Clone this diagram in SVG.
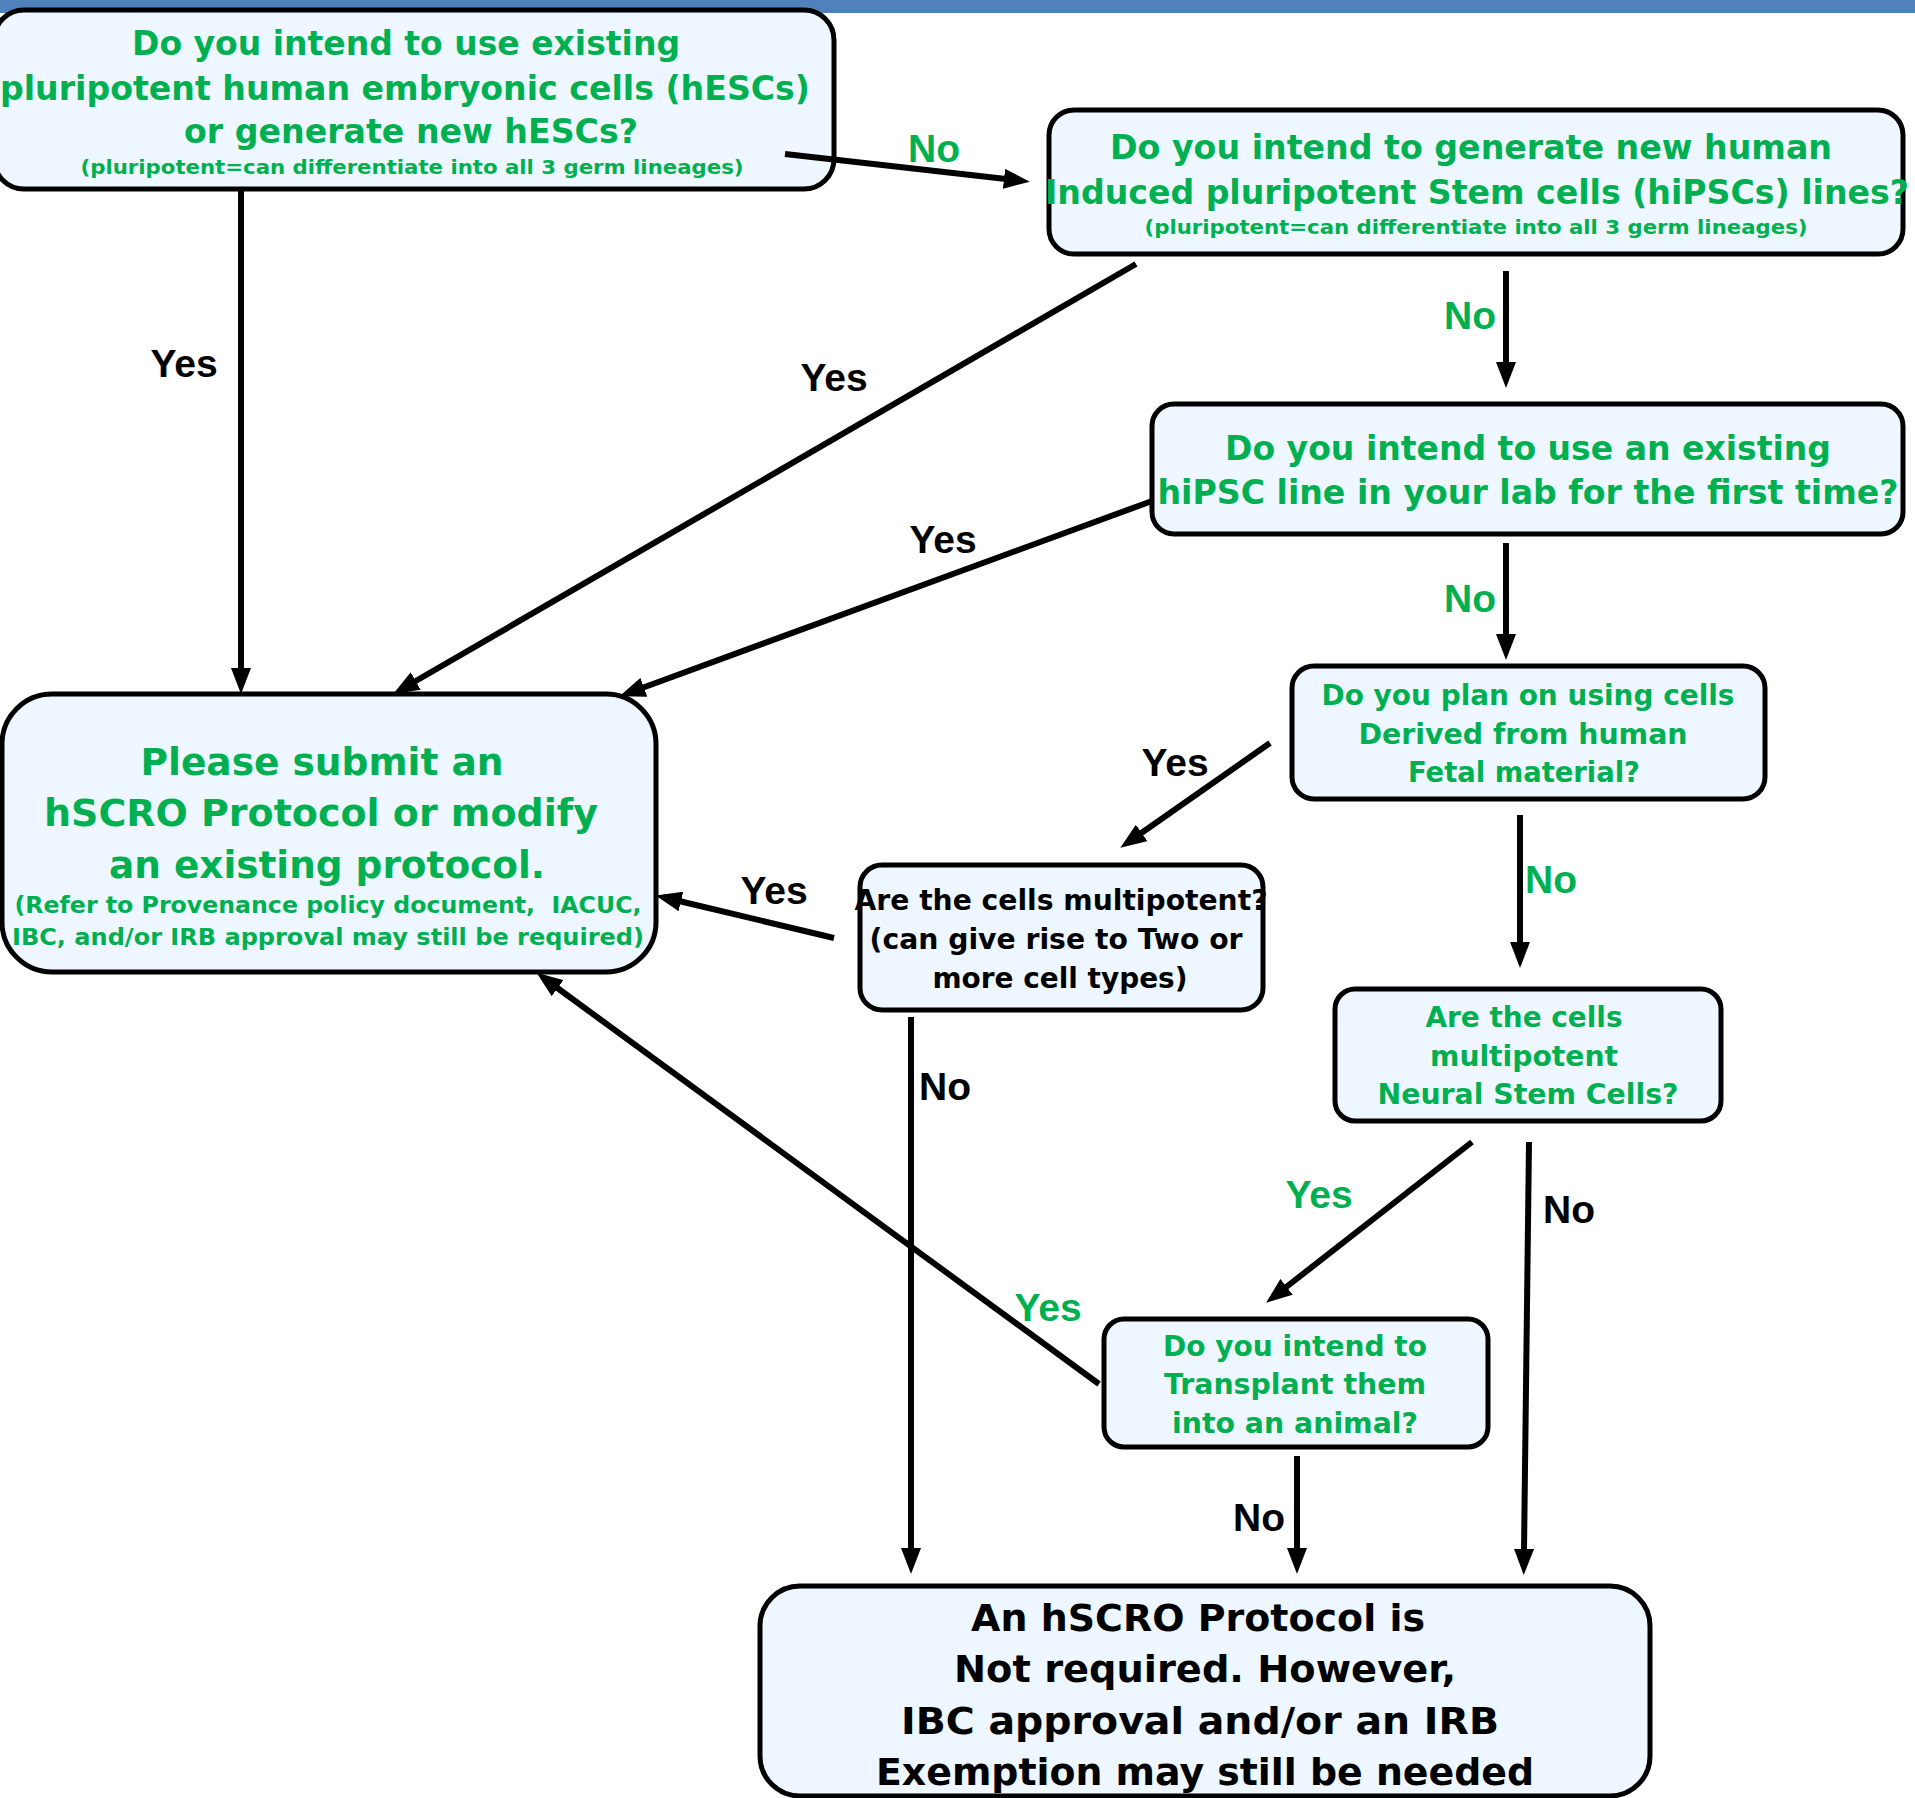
<svg xmlns="http://www.w3.org/2000/svg" width="1915" height="1798" viewBox="0 0 1915 1798">
<style>
.box{fill:#EEF6FF;stroke:#000;stroke-width:5}
.t{font-family:"DejaVu Sans","Verdana",sans-serif;font-weight:bold;text-anchor:middle}
.g{fill:#00B050}
.k{fill:#000}
.lbl{font-family:"Liberation Sans",Arial,sans-serif;font-weight:bold;font-size:39px;text-anchor:middle}
.c{stroke:#000;stroke-width:6;fill:none;marker-end:url(#ah)}
</style>
<defs>
<marker id="ah" viewBox="0 0 26 20" refX="2" refY="10" markerWidth="26" markerHeight="20" markerUnits="userSpaceOnUse" orient="auto">
<path d="M0,0 L26,10 L0,20 z" fill="#000"/>
</marker>
</defs>
<rect x="0" y="0" width="1915" height="13" fill="#4F81BD"/>

<g id="n1">
<rect class="box" x="-6" y="10" width="840" height="179" rx="30"/>
<text class="t g" font-size="33" x="406" y="55" textLength="548" lengthAdjust="spacingAndGlyphs">Do you intend to use existing</text>
<text class="t g" font-size="33" x="405" y="100" textLength="810" lengthAdjust="spacingAndGlyphs">pluripotent human embryonic cells (hESCs)</text>
<text class="t g" font-size="33" x="411" y="143" textLength="454" lengthAdjust="spacingAndGlyphs">or generate new hESCs?</text>
<text class="t g" font-size="19.5" x="412" y="174" textLength="663" lengthAdjust="spacingAndGlyphs">(pluripotent=can differentiate into all 3 germ lineages)</text>
</g>

<g id="n2">
<rect class="box" x="1049" y="110" width="854" height="144" rx="25"/>
<text class="t g" font-size="33" x="1471" y="159" textLength="722" lengthAdjust="spacingAndGlyphs">Do you intend to generate new human</text>
<text class="t g" font-size="33" x="1477" y="204" textLength="864" lengthAdjust="spacingAndGlyphs">Induced pluripotent Stem cells (hiPSCs) lines?</text>
<text class="t g" font-size="19.5" x="1476" y="234" textLength="663" lengthAdjust="spacingAndGlyphs">(pluripotent=can differentiate into all 3 germ lineages)</text>
</g>

<g id="n3">
<rect class="box" x="1152" y="404" width="751" height="130" rx="22"/>
<text class="t g" font-size="33" x="1528" y="460" textLength="606" lengthAdjust="spacingAndGlyphs">Do you intend to use an existing</text>
<text class="t g" font-size="33" x="1528" y="504" textLength="741" lengthAdjust="spacingAndGlyphs">hiPSC line in your lab for the first time?</text>
</g>

<g id="n4">
<rect class="box" x="1292" y="666" width="473" height="133" rx="22"/>
<text class="t g" font-size="28" x="1528" y="705" textLength="413" lengthAdjust="spacingAndGlyphs">Do you plan on using cells</text>
<text class="t g" font-size="28" x="1523" y="744" textLength="329" lengthAdjust="spacingAndGlyphs">Derived from human</text>
<text class="t g" font-size="28" x="1524" y="782" textLength="232" lengthAdjust="spacingAndGlyphs">Fetal material?</text>
</g>

<g id="n5">
<rect class="box" x="860" y="865" width="403" height="145" rx="22"/>
<text class="t k" font-size="28" x="1061" y="910" textLength="413" lengthAdjust="spacingAndGlyphs">Are the cells multipotent?</text>
<text class="t k" font-size="28" x="1056" y="949" textLength="373" lengthAdjust="spacingAndGlyphs">(can give rise to Two or</text>
<text class="t k" font-size="28" x="1060" y="988" textLength="255" lengthAdjust="spacingAndGlyphs">more cell types)</text>
</g>

<g id="n6">
<rect class="box" x="1335" y="989" width="386" height="132" rx="20"/>
<text class="t g" font-size="28" x="1524" y="1027" textLength="197" lengthAdjust="spacingAndGlyphs">Are the cells</text>
<text class="t g" font-size="28" x="1524" y="1066" textLength="188" lengthAdjust="spacingAndGlyphs">multipotent</text>
<text class="t g" font-size="28" x="1528" y="1104" textLength="301" lengthAdjust="spacingAndGlyphs">Neural Stem Cells?</text>
</g>

<g id="n7">
<rect class="box" x="1104" y="1319" width="384" height="128" rx="20"/>
<text class="t g" font-size="28" x="1295" y="1356" textLength="264" lengthAdjust="spacingAndGlyphs">Do you intend to</text>
<text class="t g" font-size="28" x="1295" y="1394" textLength="262" lengthAdjust="spacingAndGlyphs">Transplant them</text>
<text class="t g" font-size="28" x="1295" y="1433" textLength="246" lengthAdjust="spacingAndGlyphs">into an animal?</text>
</g>

<g id="n8">
<rect class="box" x="2" y="694" width="654" height="278" rx="50"/>
<text class="t g" font-size="37" x="322" y="775" textLength="363" lengthAdjust="spacingAndGlyphs">Please submit an</text>
<text class="t g" font-size="37" x="321" y="826" textLength="554" lengthAdjust="spacingAndGlyphs">hSCRO Protocol or modify</text>
<text class="t g" font-size="37" x="327" y="878" textLength="436" lengthAdjust="spacingAndGlyphs">an existing protocol.</text>
<text class="t g" font-size="23" x="328" y="913" textLength="627" lengthAdjust="spacingAndGlyphs" style="white-space:pre">(Refer to Provenance policy document,  IACUC,</text>
<text class="t g" font-size="23" x="328" y="945" textLength="632" lengthAdjust="spacingAndGlyphs">IBC, and/or IRB approval may still be required)</text>
</g>

<g id="n9">
<rect class="box" x="760" y="1586" width="890" height="210" rx="40"/>
<text class="t k" font-size="38" x="1198" y="1631" textLength="454" lengthAdjust="spacingAndGlyphs">An hSCRO Protocol is</text>
<text class="t k" font-size="38" x="1205" y="1682" textLength="502" lengthAdjust="spacingAndGlyphs">Not required. However,</text>
<text class="t k" font-size="38" x="1200" y="1734" textLength="598" lengthAdjust="spacingAndGlyphs">IBC approval and/or an IRB</text>
<text class="t k" font-size="38" x="1205" y="1785" textLength="658" lengthAdjust="spacingAndGlyphs">Exemption may still be needed</text>
</g>

<g id="connectors">
<line class="c" x1="785" y1="154" x2="1006" y2="179"/>
<line class="c" x1="241" y1="189" x2="241" y2="670"/>
<line class="c" x1="1136" y1="264" x2="414" y2="682"/>
<line class="c" x1="1506" y1="271" x2="1506" y2="364"/>
<line class="c" x1="1152" y1="501" x2="642" y2="688"/>
<line class="c" x1="1506" y1="543" x2="1506" y2="636"/>
<line class="c" x1="1270" y1="743" x2="1140" y2="834"/>
<line class="c" x1="1520" y1="815" x2="1520" y2="944"/>
<line class="c" x1="834" y1="938" x2="679" y2="901"/>
<line class="c" x1="911" y1="1017" x2="911" y2="1550"/>
<line class="c" x1="1472" y1="1142" x2="1285" y2="1288"/>
<line class="c" x1="1529" y1="1142" x2="1524" y2="1551"/>
<line class="c" x1="1099" y1="1384" x2="556" y2="987"/>
<line class="c" x1="1297" y1="1456" x2="1297" y2="1550"/>
<text class="lbl g" x="934" y="162">No</text>
<text class="lbl k" x="184" y="377">Yes</text>
<text class="lbl k" x="834" y="391">Yes</text>
<text class="lbl g" x="1470" y="329">No</text>
<text class="lbl k" x="943" y="553">Yes</text>
<text class="lbl g" x="1470" y="612">No</text>
<text class="lbl k" x="1175" y="776">Yes</text>
<text class="lbl g" x="1551" y="893">No</text>
<text class="lbl k" x="774" y="904">Yes</text>
<text class="lbl k" x="945" y="1100">No</text>
<text class="lbl g" x="1319" y="1208">Yes</text>
<text class="lbl k" x="1569" y="1223">No</text>
<text class="lbl g" x="1048" y="1321">Yes</text>
<text class="lbl k" x="1259" y="1531">No</text>
</g>
</svg>
